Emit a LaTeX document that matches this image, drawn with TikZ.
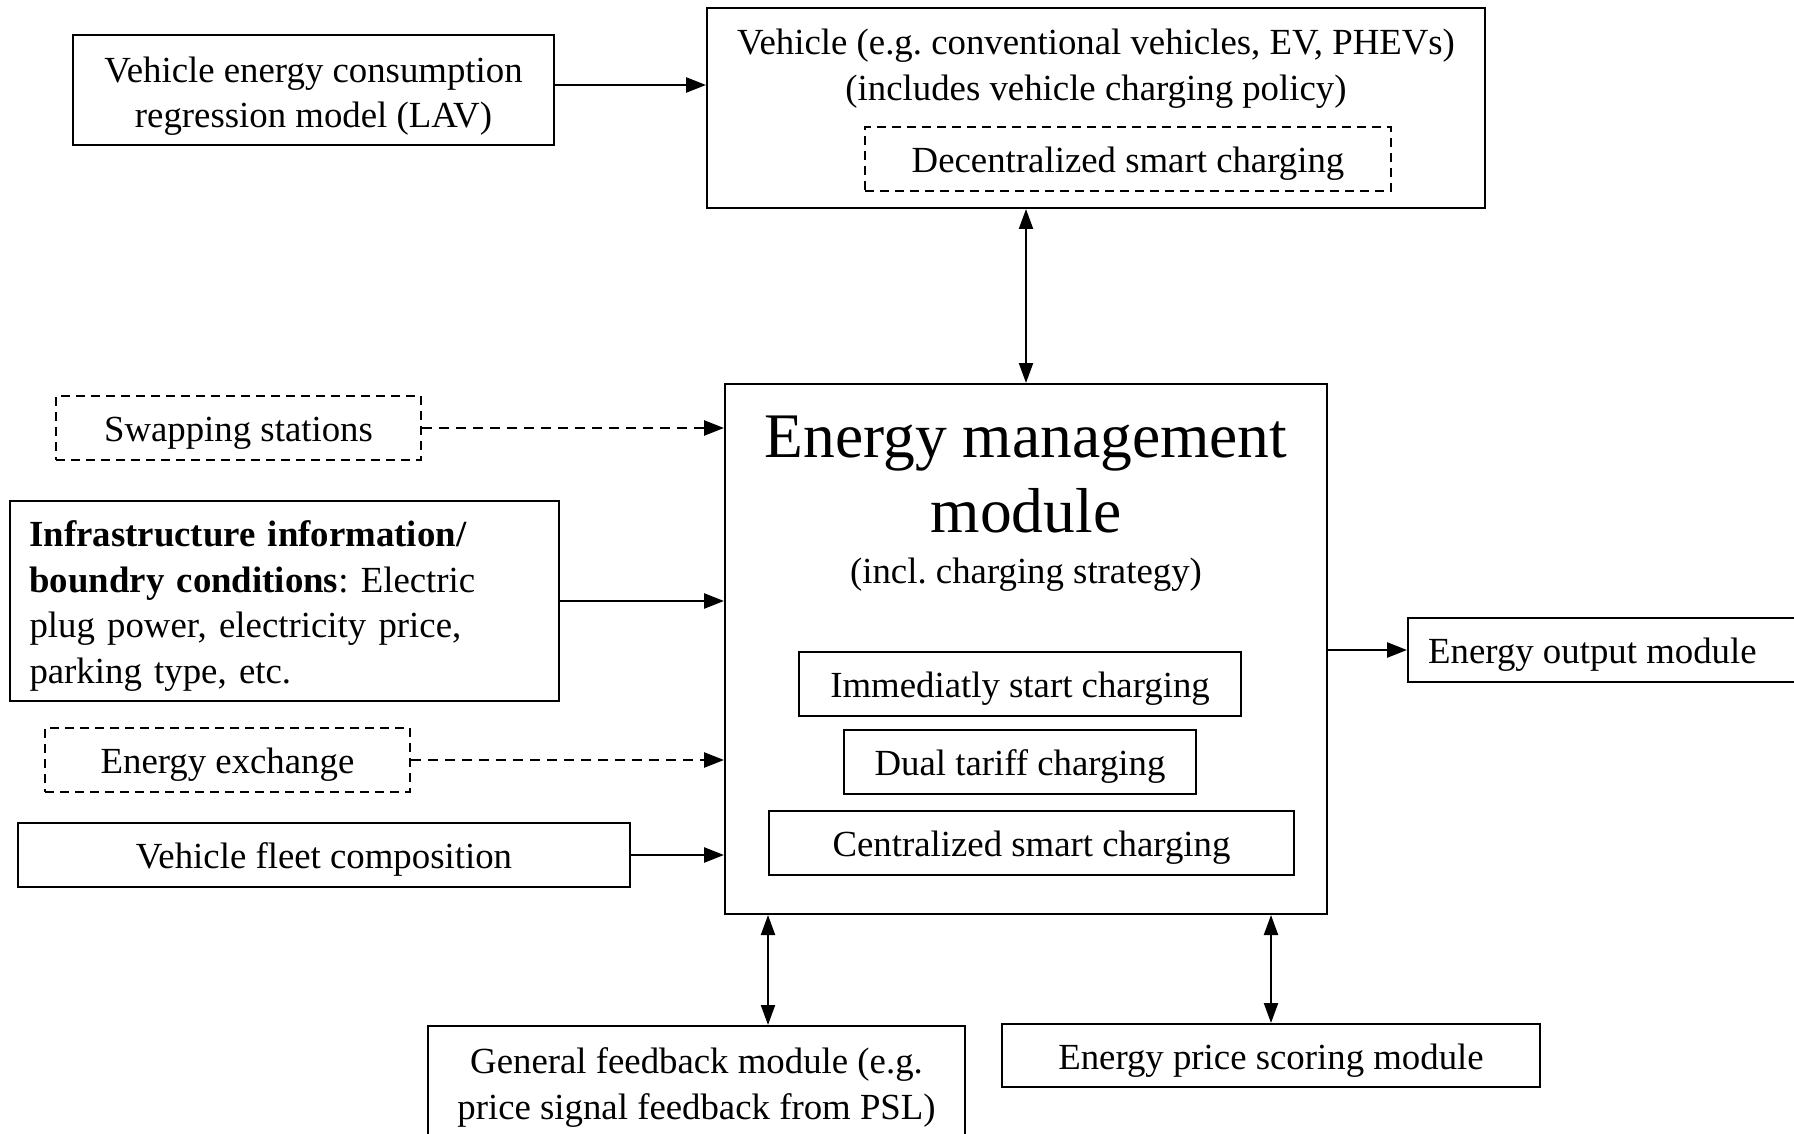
\documentclass[tikz,border=0pt]{standalone}
\usepackage{fontspec}
\setmainfont{Liberation Serif}
\frenchspacing
\usetikzlibrary{arrows.meta,calc}
\begin{document}
\begin{tikzpicture}[x=1pt,y=-1pt,
  every node/.style={font=\fontsize{36.8}{45.5}\selectfont, inner sep=0pt},
  frame/.style={draw, line width=2pt},
  box/.style={draw, line width=2pt, align=center, text height=34pt, text depth=7pt},
  dbox/.style={box, dash pattern=on 9pt off 6pt},
  line/.style={text height=34pt, text depth=7pt},
  arr/.style={line width=2.6pt, -{Triangle[length=20pt,width=15pt]}},
  darr/.style={arr, dash pattern=on 10pt off 7pt},
  barr/.style={line width=2.2pt, {Triangle[length=20pt,width=14pt]}-{Triangle[length=20pt,width=14pt]}},
  bigfont/.style={font=\fontsize{63.5}{75}\selectfont}]
\useasboundingbox (0,0) rectangle (1794,1134);
\fill[white] (0,0) rectangle (1794,1134);

% top
\node[frame, minimum width=481pt, minimum height=110pt] (lav) at (313.5,90) {};
\node[align=center] (lavtxt) at (313.5,96) {Vehicle energy consumption\\regression model (LAV)};
\node[frame, minimum width=778pt, minimum height=200pt] (veh) at (1096,108) {};
\node[align=center] (vehtxt) at (1096,68.5) {Vehicle (e.g. conventional vehicles, EV, PHEVs)\\(includes vehicle charging policy)};
\node[dbox, minimum width=526pt, minimum height=64pt] (dec) at (1128,159) {Decentralized smart charging};

% energy management module
\node[frame, minimum width=602pt, minimum height=530pt] (emm) at (1026,649) {};
\node[bigfont, align=center] (emmtitle) at (1026,475) {Energy management\\module};
\node (emmsub) at (1026,574.5) {(incl. charging strategy)};
\node[box, minimum width=442pt, minimum height=64pt] (imm) at (1020,684) {Immediatly start charging};
\node[box, minimum width=352pt, minimum height=64pt] (dual) at (1020,762) {Dual tariff charging};
\node[box, minimum width=525pt, minimum height=64pt] (cen) at (1031.5,843) {Centralized smart charging};

% left inputs
\node[dbox, minimum width=365pt, minimum height=64pt] (swap) at (238.5,428) {Swapping stations};
\node[frame, minimum width=549pt, minimum height=200pt] (infra) at (284.5,601) {};
\node[align=left, text width=510pt] (infratxt) at (284.5,606) {\textbf{Infrastructure information/}\\\textbf{boundry conditions}: Electric\\plug power, electricity price,\\parking type, etc.};
\node[dbox, minimum width=365pt, minimum height=64pt] (exch) at (227.5,760) {Energy exchange};
\node[box, minimum width=612pt, minimum height=64pt] (fleet) at (324,855) {Vehicle fleet composition};

% right output
\node[frame, minimum width=400pt, minimum height=64pt] (out) at (1608,650) {};
\node[line, anchor=west] (outtxt) at (1428,650) {Energy output module};

% bottom
\node[frame, minimum width=537pt, minimum height=140pt] (gen) at (696.5,1096) {};
\node[align=center] (gentxt) at (696.5,1087.5) {General feedback module (e.g.\\price signal feedback from PSL)};
\node[box, minimum width=538pt, minimum height=63pt] (price) at (1271,1055.5) {Energy price scoring module};

% connectors
\draw[arr] (lav.east |- 0,85) -- (veh.west |- 0,85);
\draw[barr] (emm.north) -- (emm.north |- veh.south);
\draw[darr] (swap.east) -- (swap.east -| emm.west);
\draw[arr] (infra.east) -- (infra.east -| emm.west);
\draw[darr] (exch.east) -- (exch.east -| emm.west);
\draw[arr] (fleet.east) -- (fleet.east -| emm.west);
\draw[arr] (emm.east |- out.west) -- (out.west);
\coordinate (gtop) at ($(emm.south west)+(44,0)$);
\draw[barr] (gtop) -- (gtop |- gen.north);
\draw[barr] (price.north |- emm.south) -- (price.north);
\end{tikzpicture}
\end{document}
